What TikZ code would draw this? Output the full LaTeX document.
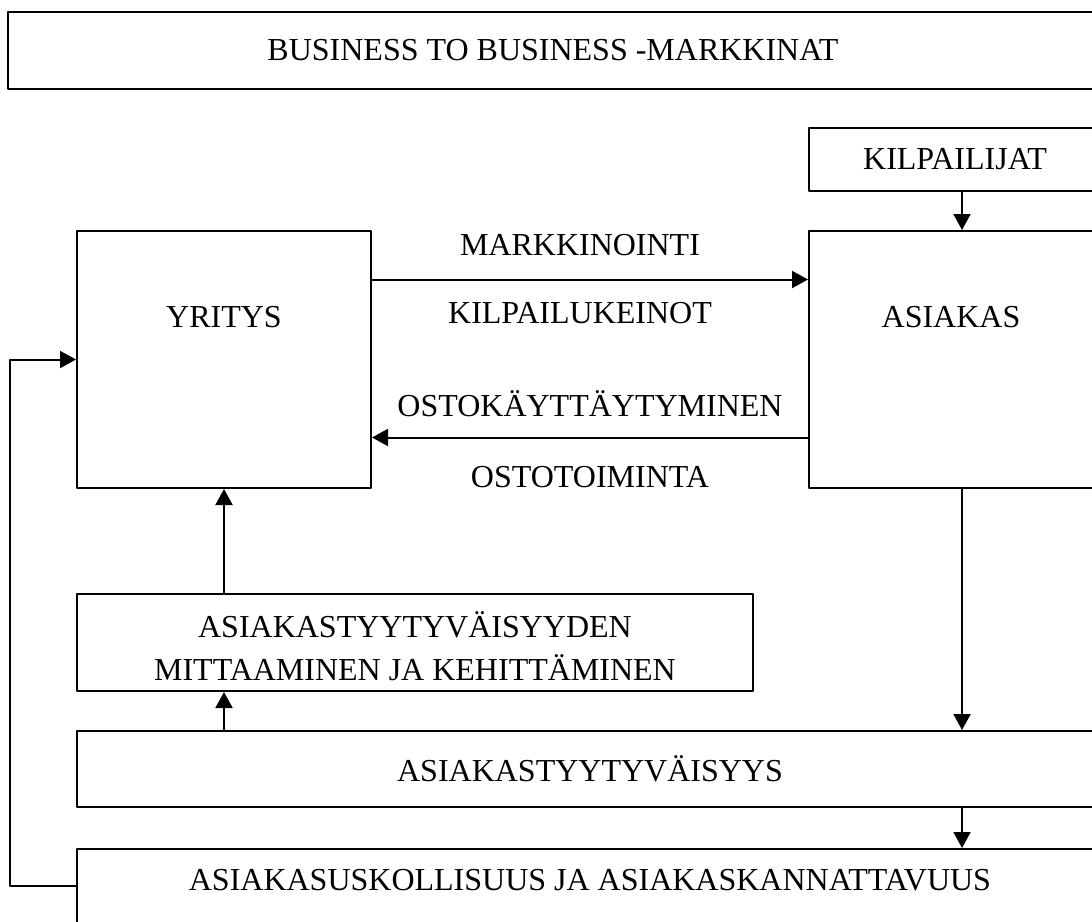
\documentclass[tikz,border=0pt]{standalone}
\usepackage{fontspec}
\setmainfont{Liberation Serif}
\usetikzlibrary{arrows.meta,positioning}

\tikzset{
  laatikko/.style={draw,rectangle,inner sep=0pt,line width=2pt},
  teksti/.style={inner sep=0pt,align=center}
}

\begin{document}
\begin{tikzpicture}[line cap=round,line join=round,>={Triangle[length=16pt,width=17pt]},x=1pt,y=-1pt,line width=2pt,font=\fontsize{32}{43}\selectfont]
\clip (0,0) rectangle (1092,921);
\coordinate (vasen) at (10,0);
\coordinate (oikea) at (962,0);
% laatikot
\node[laatikko,minimum width=1090pt,minimum height=77pt] (markkinat) at (553,50.5) {BUSINESS TO BUSINESS -MARKKINAT};
\node[laatikko,minimum width=292pt,minimum height=63pt] (kilpailijat) at (955,159.5) {KILPAILIJAT};
\node[laatikko,minimum width=294pt,minimum height=257pt] (yritys) at (224,359.5) {};
\node[teksti] (yritysnimi) at (224,317) {YRITYS};
\node[laatikko,minimum width=284pt,minimum height=257pt] (asiakas) at (951,359.5) {};
\node[teksti] (asiakasnimi) at (951,317) {ASIAKAS};
\node[laatikko,minimum width=676pt,minimum height=97pt] (mittaus) at (415,642.5) {};
\node[teksti] (mittausnimi) at (415,646) {ASIAKASTYYTYVÄISYYDEN\\MITTAAMINEN JA KEHITTÄMINEN};
\node[laatikko,minimum width=1026pt,minimum height=76pt] (tyytyvaisyys) at (590,769) {ASIAKASTYYTYVÄISYYS};
\node[laatikko,minimum width=1026pt,minimum height=74pt] (uskollisuus) at (590,886) {};
\node[teksti] (uskollisuusnimi) at (590,880) {ASIAKASUSKOLLISUUS JA ASIAKASKANNATTAVUUS};
% nuolet
\draw[->] ([yshift=80pt]yritys.east) -- node[teksti,yshift=34pt,xshift=-10pt] {MARKKINOINTI}
  node[teksti,yshift=-34pt,xshift=-10pt] {KILPAILUKEINOT} ([yshift=80pt]asiakas.west);
\draw[->] ([yshift=-78pt]asiakas.west) -- node[teksti,yshift=34pt] {OSTOKÄYTTÄYTYMINEN}
  node[teksti,yshift=-40pt] {OSTOTOIMINTA} ([yshift=-78pt]yritys.west -| yritys.east);
\draw[->] (kilpailijat.south -| oikea) -- (asiakas.north -| oikea);
\draw[->] (asiakas.south -| oikea) -- (tyytyvaisyys.north -| oikea);
\draw[->] (tyytyvaisyys.south -| oikea) -- (uskollisuus.north -| oikea);
\draw[->] (tyytyvaisyys.north -| yritys.south) -- (mittaus.south -| yritys.south);
\draw[->] (mittaus.north -| yritys.south) -- (yritys.south);
\draw[->] (uskollisuus.west) -- (uskollisuus.west -| vasen) |- (yritys.west);
\end{tikzpicture}
\end{document}
